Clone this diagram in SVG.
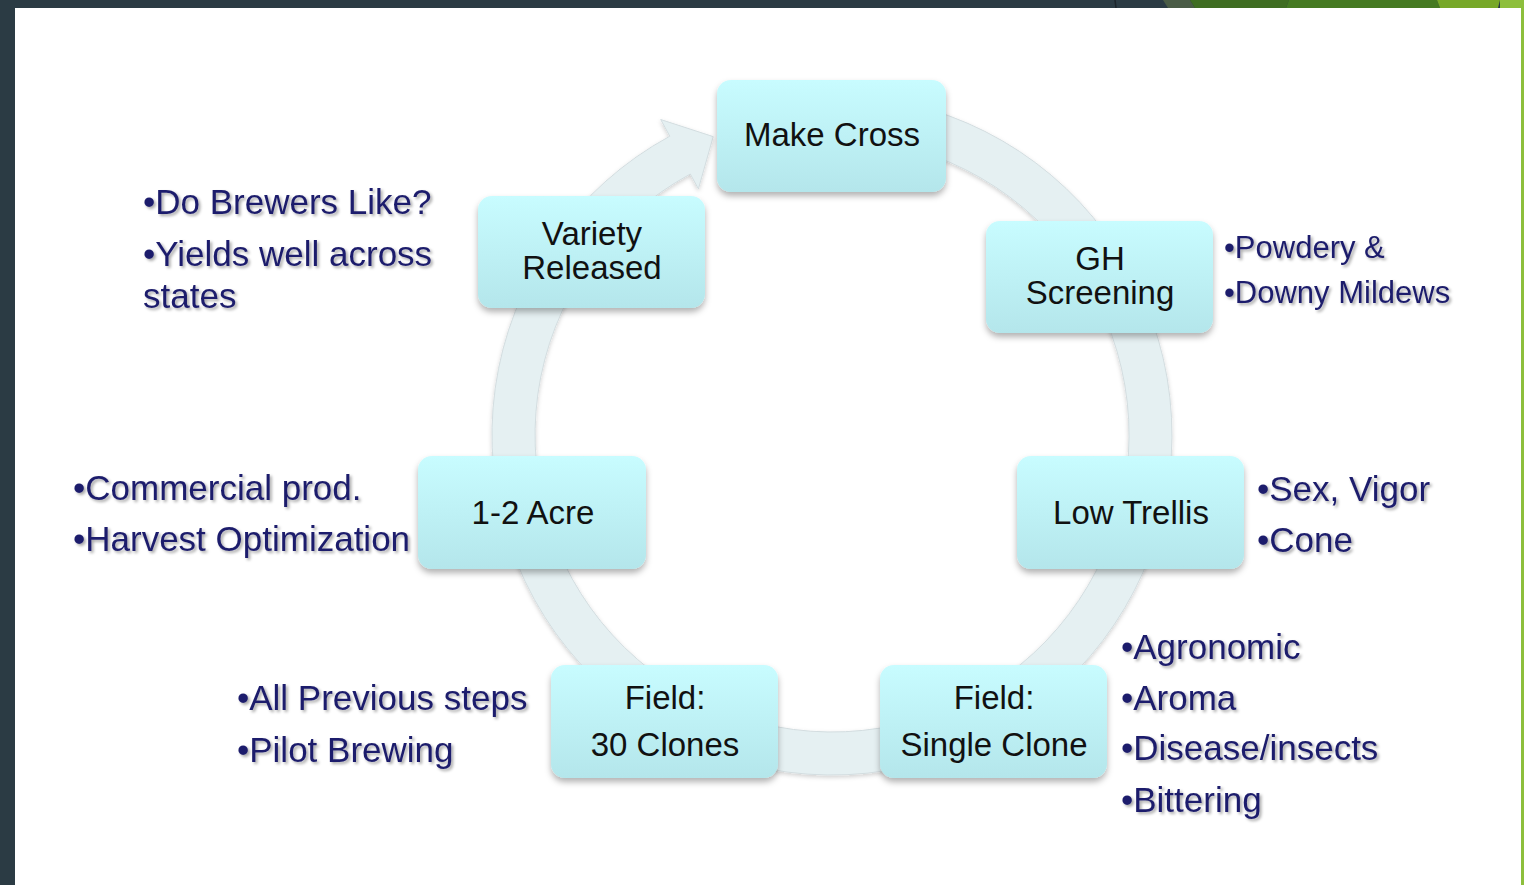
<svg xmlns="http://www.w3.org/2000/svg" width="1524" height="885" viewBox="0 0 1524 885">
<defs>
<linearGradient id="ng" x1="0" y1="0" x2="0" y2="1">
<stop offset="0" stop-color="#c8fcff"/>
<stop offset="1" stop-color="#b4e6eb"/>
</linearGradient>
<filter id="ns" x="-10%" y="-10%" width="125%" height="130%">
<feDropShadow dx="0" dy="4" stdDeviation="3" flood-color="#000" flood-opacity="0.3"/>
</filter>
<filter id="ts" x="-5%" y="-20%" width="115%" height="150%">
<feDropShadow dx="2" dy="2" stdDeviation="1.5" flood-color="#000" flood-opacity="0.35"/>
</filter>
<filter id="bs" x="-10%" y="-10%" width="120%" height="120%">
<feDropShadow dx="0" dy="2" stdDeviation="2" flood-color="#000" flood-opacity="0.18"/>
</filter>
</defs>
<style>
.node rect{fill:url(#ng);filter:url(#ns)}
.nt{font-family:"Liberation Sans",Arial,sans-serif;font-size:33px;fill:#111;text-anchor:middle}
.st{font-family:"Liberation Sans",Arial,sans-serif;font-size:35px;fill:#1f1f6c;filter:url(#ts)}
.st2{font-family:"Liberation Sans",Arial,sans-serif;font-size:31px;fill:#1f1f6c;filter:url(#ts)}
</style>
<rect x="0" y="0" width="1524" height="885" fill="#2b3b44"/>
<polygon points="1163,0 1190,0 1195,8 1168,8" fill="#4a5c46"/>
<polygon points="1190,0 1289,0 1286,8 1195,8" fill="#3f6d22"/>
<polygon points="1289,0 1437,0 1440,8 1286,8" fill="#457a22"/>
<polygon points="1437,0 1500,0 1498,8 1440,8" fill="#77a828"/>
<polygon points="1500,0 1524,0 1524,885 1498,885" fill="#8dbf3c"/>
<line x1="1115" y1="0" x2="1116" y2="8" stroke="#1c252b" stroke-width="1.5"/>
<rect x="15" y="8" width="1506" height="877" fill="#ffffff"/>
<g id="connectors">
<path d="M 891,100.2 A 340 340 0 1 1 669.8,136.2 L 660.7,119.5 L 713.2,136.6 L 698.4,188.9 L 690.3,174 A 297 297 0 1 0 883.6,142.5 Z" fill="#e5f0f2" stroke="#d3dde0" stroke-width="1" filter="url(#bs)"/>
</g>
<g id="make-cross" class="node"><rect x="717" y="80" width="229" height="112" rx="14"/><text class="nt" x="832" y="146">Make Cross</text></g>
<g id="gh-screening" class="node"><rect x="986" y="221" width="227" height="112" rx="14"/><text class="nt" x="1100" y="270">GH</text><text class="nt" x="1100" y="304">Screening</text></g>
<g id="low-trellis" class="node"><rect x="1017" y="456" width="227" height="113" rx="14"/><text class="nt" x="1131" y="524">Low Trellis</text></g>
<g id="field-single" class="node"><rect x="880" y="665" width="227" height="113" rx="14"/><text class="nt" x="994" y="709">Field:</text><text class="nt" x="994" y="756">Single Clone</text></g>
<g id="field-30" class="node"><rect x="551" y="665" width="227" height="113" rx="14"/><text class="nt" x="665" y="709">Field:</text><text class="nt" x="665" y="756">30 Clones</text></g>
<g id="acre" class="node"><rect x="418" y="456" width="228" height="113" rx="14"/><text class="nt" x="533" y="524">1-2 Acre</text></g>
<g id="variety" class="node"><rect x="478" y="196" width="227" height="112" rx="14"/><text class="nt" x="592" y="245">Variety</text><text class="nt" x="592" y="279">Released</text></g>
<g id="notes-variety"><text class="st" x="143" y="214">•Do Brewers Like?</text><text class="st" x="143" y="266">•Yields well across</text><text class="st" x="143" y="308">states</text></g>
<g id="notes-gh"><text class="st2" x="1224" y="258">•Powdery &amp;</text><text class="st2" x="1224" y="303">•Downy Mildews</text></g>
<g id="notes-trellis"><text class="st" x="1257" y="501">•Sex, Vigor</text><text class="st" x="1257" y="552">•Cone</text></g>
<g id="notes-acre"><text class="st" x="73" y="500">•Commercial prod.</text><text class="st" x="73" y="551">•Harvest Optimization</text></g>
<g id="notes-30"><text class="st" x="237" y="710">•All Previous steps</text><text class="st" x="237" y="762">•Pilot Brewing</text></g>
<g id="notes-single"><text class="st" x="1121" y="659">•Agronomic</text><text class="st" x="1121" y="710">•Aroma</text><text class="st" x="1121" y="760">•Disease/insects</text><text class="st" x="1121" y="812">•Bittering</text></g>
</svg>
